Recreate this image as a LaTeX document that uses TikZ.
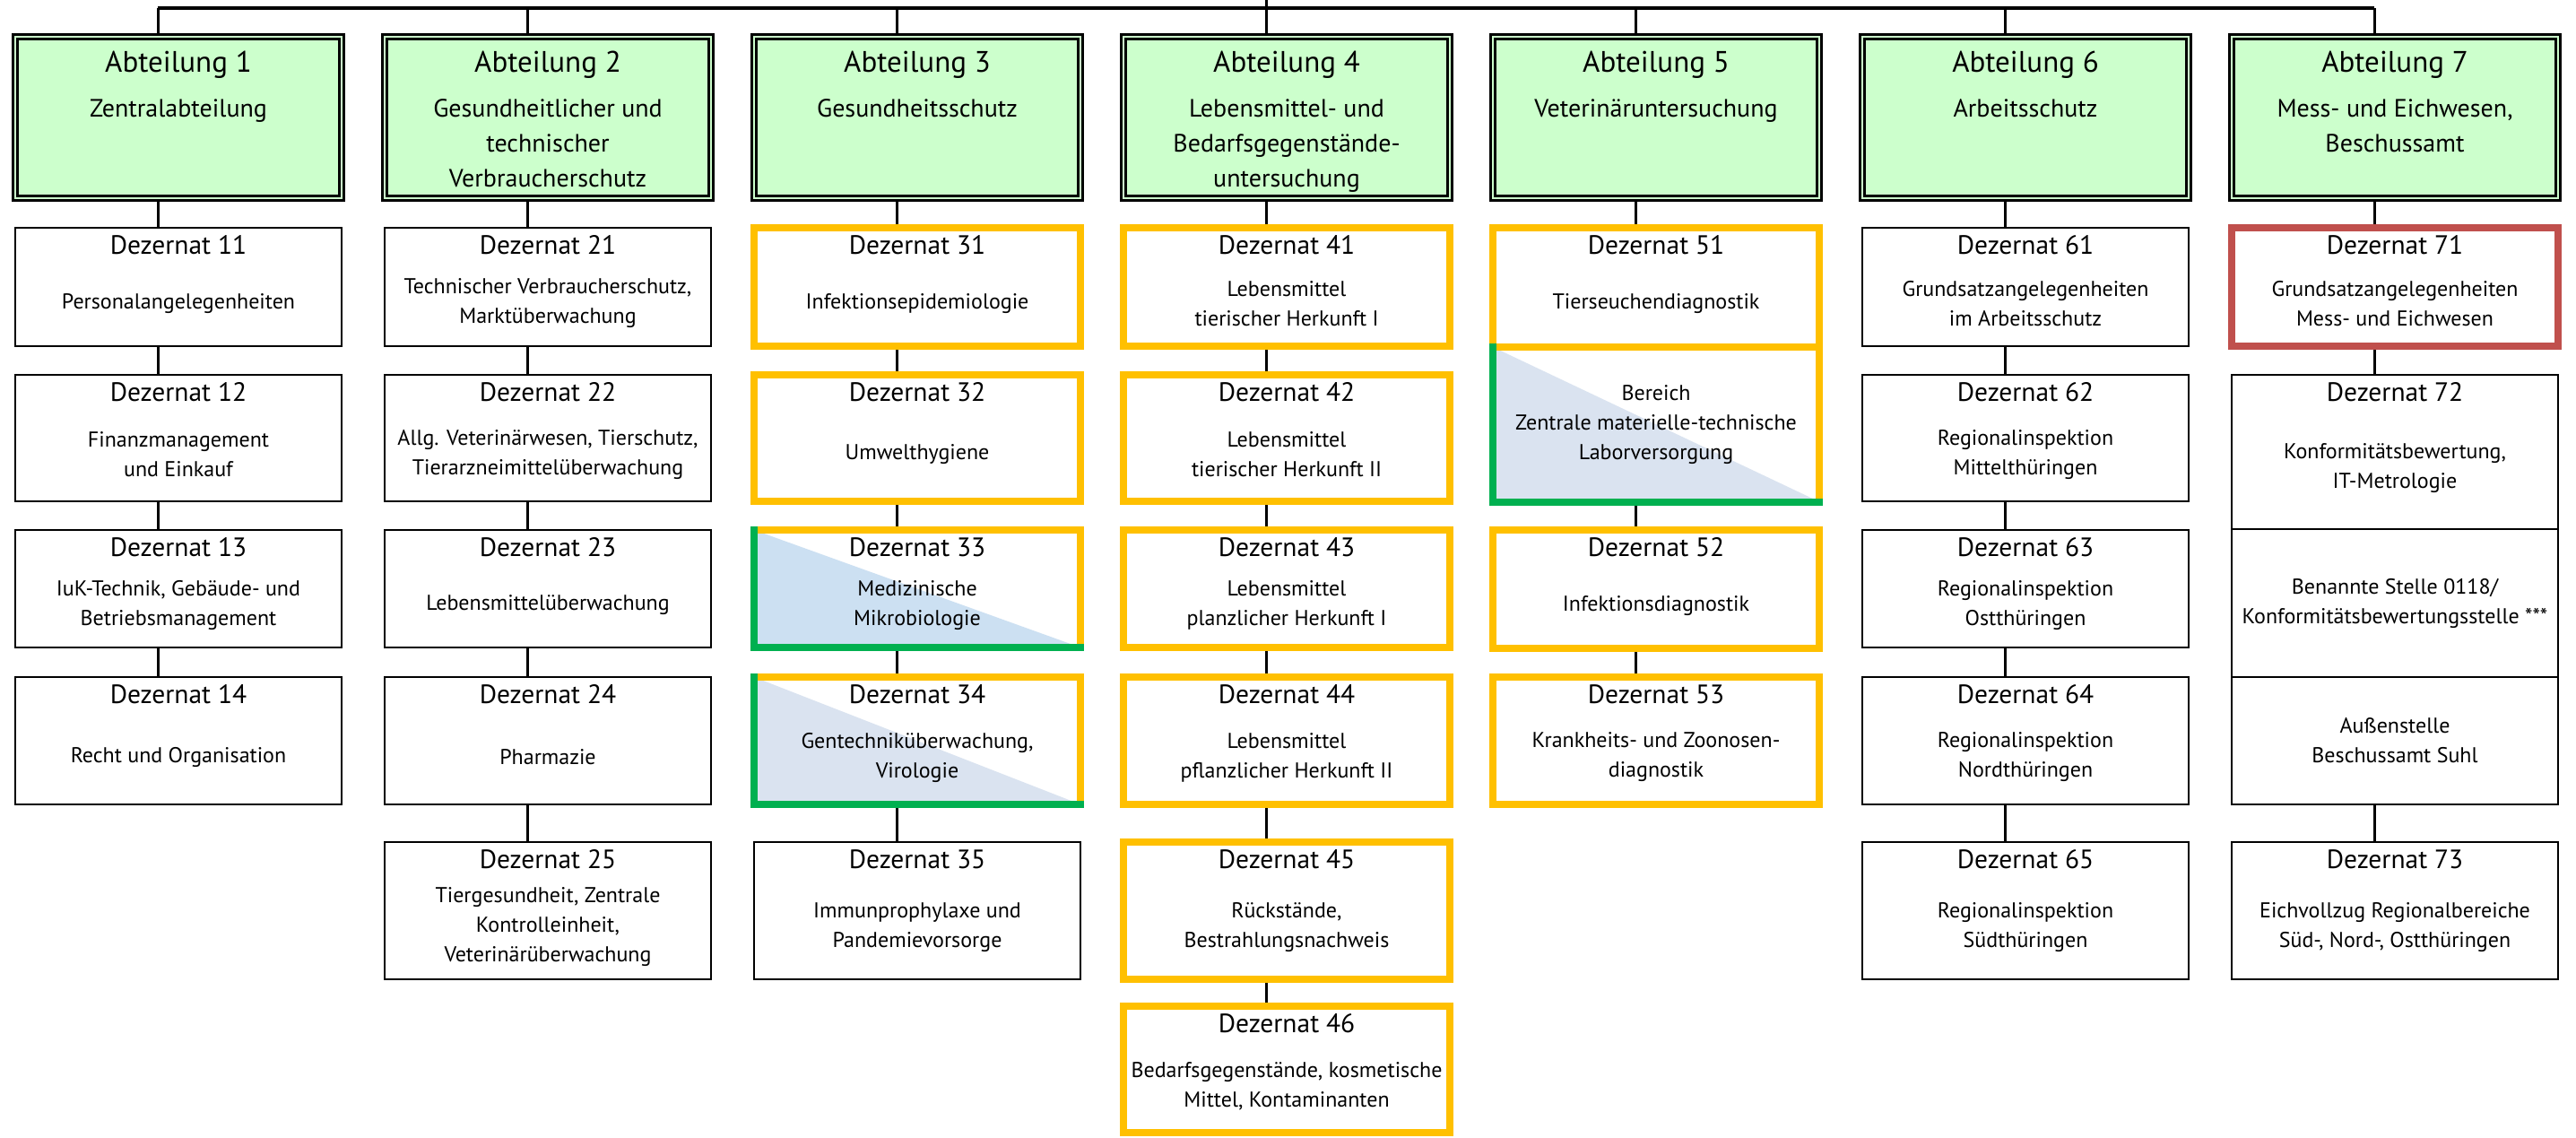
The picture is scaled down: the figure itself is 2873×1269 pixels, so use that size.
\documentclass[tikz,border=0pt]{standalone}
\usepackage{fontspec}
\setmainfont{PT Sans}
\usetikzlibrary{calc,backgrounds}

\definecolor{abtgruen}{RGB}{204,255,204}
\definecolor{gelb}{RGB}{255,192,0}
\definecolor{gruen}{RGB}{0,176,80}
\definecolor{rot}{RGB}{192,80,77}
\definecolor{blauA}{RGB}{204,224,242}
\definecolor{blauB}{RGB}{218,227,240}

\tikzset{
  box/.style={rectangle, inner sep=0pt, outer sep=0pt, minimum width=364pt, fill=white, anchor=north west},
  abtbox/.style={box, fill=abtgruen, draw=black, line width=3pt, double=abtgruen, double distance=2pt, minimum height=180pt},
  dezbox/.style={box, draw=black, line width=2.7pt},
  ybox/.style={box, draw=gelb, line width=8pt},
  rbox/.style={box, draw=rot, line width=8pt},
  ylw/.style={draw=gelb, line width=8pt, line cap=rect},
  grn/.style={draw=gruen, line width=8pt, line cap=rect},
  atitle/.style={font=\fontsize{33}{40}\selectfont, inner sep=0pt, anchor=base},
  asub/.style={font=\fontsize{28}{39}\selectfont, align=center, inner sep=0pt, anchor=north},
  dtitle/.style={font=\fontsize{29.5}{36}\selectfont, inner sep=0pt, anchor=base},
  body/.style={font=\fontsize{24}{33}\selectfont, align=center, inner sep=0pt},
  conn/.style={line width=3pt},
  bus/.style={line width=4pt},
}

\begin{document}
\begin{tikzpicture}[x=1pt, y=-1pt]
  \path[use as bounding box] (0,0) rectangle (2873,1269);
  \coordinate (root) at (1412,0);
  \coordinate (busl) at (176,9);
  \coordinate (busr) at (2648,9);

  % Abteilungen
  \foreach \i/\txt in {1/Zentralabteilung,
      2/{Gesundheitlicher und\\technischer\\Verbraucherschutz},
      3/Gesundheitsschutz,
      4/{Lebensmittel- und\\Bedarfsgegenstände-\\untersuchung},
      5/Veterinäruntersuchung,
      6/Arbeitsschutz,
      7/{Mess- und Eichwesen,\\Beschussamt}} {
    \coordinate (c\i) at ({176+412*(\i-1)},0);
    \node[abtbox] (a\i) at ({17+412*(\i-1)},41) {};
    \node[atitle] (ta\i) at ([yshift=-39pt]a\i.north) {Abteilung \i};
    \node[asub] (sa\i) at ([yshift=-69pt]a\i.north) {\txt};
  }

  % Dezernate, schwarz
  \foreach \c/\n/\ya/\yb/\txt in {
      1/11/254/386/Personalangelegenheiten,
      1/12/418/559/{Finanzmanagement\\und Einkauf},
      1/13/591/722/{IuK-Technik, Gebäude- und\\Betriebsmanagement},
      1/14/755/897/Recht und Organisation,
      2/21/254/386/{Technischer Verbraucherschutz,\\Marktüberwachung},
      2/22/418/559/{Allg. Veterinärwesen, Tierschutz,\\Tierarzneimittelüberwachung},
      2/23/591/722/Lebensmittelüberwachung,
      2/24/755/897/Pharmazie,
      2/25/939/1092/{Tiergesundheit, Zentrale\\Kontrolleinheit,\\Veterinärüberwachung},
      3/35/939/1092/{Immunprophylaxe und\\Pandemievorsorge},
      6/61/254/386/{Grundsatzangelegenheiten\\im Arbeitsschutz},
      6/62/418/559/{Regionalinspektion\\Mittelthüringen},
      6/63/591/722/{Regionalinspektion\\Ostthüringen},
      6/64/755/897/{Regionalinspektion\\Nordthüringen},
      6/65/939/1092/{Regionalinspektion\\Südthüringen},
      7/72/418/590/{Konformitätsbewertung,\\IT-Metrologie},
      7/73/939/1092/{Eichvollzug Regionalbereiche\\Süd-, Nord-, Ostthüringen}} {
    \pgfmathsetmacro\boxh{\yb-\ya}
    \node[dezbox, minimum height=\boxh pt] (d\n) at ({17+412*(\c-1)},\ya) {};
    \node[dtitle] (t\n) at ([yshift=-29pt]d\n.north) {Dezernat \n};
    \node[body] (b\n) at ($(d\n.south)!0.5!([yshift=-37pt]d\n.north)$) {\txt};
  }

  % Dezernate, gelb
  \foreach \c/\n/\ya/\yb/\txt in {
      3/31/254/386/Infektionsepidemiologie,
      3/32/418/559/Umwelthygiene,
      4/41/254/386/{Lebensmittel\\tierischer Herkunft I},
      4/42/418/559/{Lebensmittel\\tierischer Herkunft II},
      4/43/591/722/{Lebensmittel\\planzlicher Herkunft I},
      4/44/755/897/{Lebensmittel\\pflanzlicher Herkunft II},
      4/45/939/1092/{Rückstände,\\Bestrahlungsnachweis},
      4/46/1122/1263/{Bedarfsgegenstände, kosmetische\\Mittel, Kontaminanten},
      5/51/254/387/Tierseuchendiagnostik,
      5/52/591/723/Infektionsdiagnostik,
      5/53/755/897/{Krankheits- und Zoonosen-\\diagnostik}} {
    \pgfmathsetmacro\boxh{\yb-\ya}
    \node[ybox, minimum height=\boxh pt] (d\n) at ({17+412*(\c-1)},\ya) {};
    \node[dtitle] (t\n) at ([yshift=-29pt]d\n.north) {Dezernat \n};
    \node[body] (b\n) at ($(d\n.south)!0.5!([yshift=-37pt]d\n.north)$) {\txt};
  }

  % Dezernat 71
  \node[rbox, minimum height=132pt] (d71) at (2489,254) {};
  \node[dtitle] (t71) at ([yshift=-29pt]d71.north) {Dezernat 71};
  \node[body] (b71) at ($(d71.south)!0.5!([yshift=-37pt]d71.north)$) {Grundsatzangelegenheiten\\Mess- und Eichwesen};

  % halb gelb, halb gruen
  \foreach \n/\ya/\yb/\col/\txt in {33/591/722/blauA/{Medizinische\\Mikrobiologie},
      34/755/897/blauB/{Gentechniküberwachung,\\Virologie}} {
    \pgfmathsetmacro\boxh{\yb-\ya}
    \node[box, minimum height=\boxh pt] (d\n) at (841,\ya) {};
    \fill[fill=\col] (d\n.north west) -- (d\n.south east) -- (d\n.south west) -- cycle;
    \draw[ylw] (d\n.north west) -- (d\n.north east) -- (d\n.south east);
    \draw[grn] (d\n.north west) -- (d\n.south west) -- (d\n.south east);
    \node[dtitle] (t\n) at ([yshift=-29pt]d\n.north) {Dezernat \n};
    \node[body] (b\n) at ($(d\n.south)!0.5!([yshift=-37pt]d\n.north)$) {\txt};
  }
  \node[box, minimum height=172.5pt] (d5b) at (1665,387) {};
  \fill[blauB] (d5b.north west) -- (d5b.south east) -- (d5b.south west) -- cycle;
  \draw[ylw] (d5b.north west) -- (d5b.north east) -- (d5b.south east);
  \draw[grn] (d5b.north west) -- (d5b.south west) -- (d5b.south east);
  \node[body] (b5b) at (d5b.center) {Bereich\\Zentrale materielle-technische\\Laborversorgung};

  % Abteilung 7, ohne Titel
  \node[dezbox, minimum height=165pt] (d7b) at (2489,590) {};
  \node[body] (b7b) at (d7b.center) {Benannte Stelle 0118/\\Konformitätsbewertungsstelle ***};
  \node[dezbox, minimum height=142pt] (d7c) at (2489,755) {};
  \node[body] (b7c) at (d7c.center) {Außenstelle\\Beschussamt Suhl};

  % Verbindungen
  \begin{scope}[on background layer]
    \fill[white] (0,0) rectangle (2873,1269);
    \draw[bus] (busl) -- (busr);
    \draw[conn] (root) -- (root |- busl);
    \foreach \i in {1,...,7}
      \draw[conn] (c\i |- busl) -- (a\i.north -| c\i);
    \foreach \i/\m in {1/4,2/5,3/5,4/6,6/5} {
      \draw[conn] (a\i.south -| c\i) -- (d\i1.north -| c\i);
      \foreach \k in {2,...,\m} {
        \pgfmathtruncatemacro\p{\k-1}
        \draw[conn] (d\i\p.south -| c\i) -- (d\i\k.north -| c\i);
      }
    }
    \draw[conn] (a5.south -| c5) -- (d51.north -| c5);
    \draw[conn] (d5b.south -| c5) -- (d52.north -| c5);
    \draw[conn] (d52.south -| c5) -- (d53.north -| c5);
    \draw[conn] (a7.south -| c7) -- (d71.north -| c7);
    \draw[conn] (d71.south -| c7) -- (d72.north -| c7);
    \draw[conn] (d7c.south -| c7) -- (d73.north -| c7);
  \end{scope}
\end{tikzpicture}
\end{document}
